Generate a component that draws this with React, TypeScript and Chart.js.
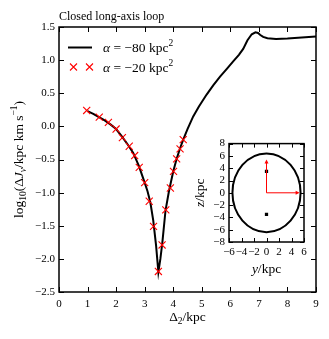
import React, { useEffect, useRef } from "react";
import { Chart, registerables } from "chart.js";
Chart.register(...registerables);

// ---- data ----
const curveX = [1.0, 1.2, 1.4, 1.6, 1.8, 2.0, 2.2, 2.4, 2.6, 2.8, 3.0, 3.1, 3.2, 3.3, 3.4, 3.48, 3.55, 3.62, 3.73, 3.85, 4.0, 4.12, 4.24, 4.35, 4.5, 4.7, 4.9, 5.17, 5.4, 5.64, 5.9, 6.1, 6.3, 6.45, 6.6, 6.75, 6.88, 6.97, 7.05, 7.15, 7.3, 7.6, 8.0, 8.5, 9.0];
const curveY = [0.23, 0.19, 0.14, 0.09, 0.03, -0.04, -0.15, -0.27, -0.40, -0.60, -0.85, -0.98, -1.15, -1.42, -1.8, -2.2, -2.0, -1.75, -1.27, -0.98, -0.68, -0.49, -0.33, -0.20, -0.04, 0.15, 0.30, 0.48, 0.62, 0.75, 0.88, 0.98, 1.08, 1.17, 1.30, 1.39, 1.42, 1.41, 1.38, 1.35, 1.33, 1.32, 1.325, 1.34, 1.355];
const markX = [0.97, 1.41, 1.73, 2.0, 2.22, 2.46, 2.65, 2.81, 3.0, 3.16, 3.31, 3.48, 3.61, 3.74, 3.90, 4.01, 4.12, 4.24, 4.35];
const markY = [0.24, 0.14, 0.06, -0.04, -0.17, -0.30, -0.44, -0.62, -0.85, -1.13, -1.51, -2.19, -1.79, -1.26, -0.93, -0.68, -0.49, -0.34, -0.20];
const xRange = [0, 9];
const yRange = [-2.5, 1.5];

// inset
const insetXRange = [-6, 6];
const insetYRange = [-8, 8];
const ellipseCenter = [0, 0];
const ellipseRadii = [5.45, 6.4];
const squareY = [0, 0];
const squareZ = [3.5, -3.5];
const arrowTipY = [0, 5.3];
const arrowTipZ = [5.4, 0];

const legendLabels = ["\u221280 kpc", "\u221220 kpc"];
const titleText = "Closed long-axis loop";

const SERIF = '"Liberation Serif", "DejaVu Serif", serif';
const M = 13.5; // math text size
const MS = 9.5; // sub/superscript size

type Seg = { t: string; s: number; i?: boolean; dy?: number };
function segFont(g: Seg) {
  return `${g.i ? "italic " : ""}${g.s}px ${SERIF}`;
}
function drawRich(ctx: CanvasRenderingContext2D, x: number, y: number, segs: Seg[], align: "left" | "center") {
  let w = 0;
  for (const g of segs) {
    ctx.font = segFont(g);
    w += ctx.measureText(g.t).width;
  }
  let cx = align === "center" ? x - w / 2 : x;
  ctx.textBaseline = "alphabetic";
  ctx.textAlign = "left";
  ctx.fillStyle = "#000";
  for (const g of segs) {
    ctx.font = segFont(g);
    ctx.fillText(g.t, cx, y + (g.dy || 0));
    cx += ctx.measureText(g.t).width;
  }
}

function makeFrame(tickLen: number, lw: number) {
  return {
    id: "frame",
    afterDatasetsDraw(chart: any) {
      const { ctx, chartArea: a, scales } = chart;
      ctx.save();
      ctx.strokeStyle = "#000";
      ctx.lineWidth = 1;
      ctx.beginPath();
      for (const t of scales.x.ticks) {
        const px = Math.round(scales.x.getPixelForValue(t.value)) + 0.5;
        ctx.moveTo(px, a.bottom);
        ctx.lineTo(px, a.bottom - tickLen);
        ctx.moveTo(px, a.top);
        ctx.lineTo(px, a.top + tickLen);
      }
      for (const t of scales.y.ticks) {
        const py = Math.round(scales.y.getPixelForValue(t.value)) + 0.5;
        ctx.moveTo(a.left, py);
        ctx.lineTo(a.left + tickLen, py);
        ctx.moveTo(a.right, py);
        ctx.lineTo(a.right - tickLen, py);
      }
      ctx.stroke();
      ctx.lineWidth = lw;
      ctx.strokeRect(a.left, a.top, a.right - a.left, a.bottom - a.top);
      ctx.restore();
    },
  };
}

const fmtMinus = (v: number, d: number) => {
  const s = Math.abs(v).toFixed(d);
  return v < -1e-9 ? "\u2212" + s : s;
};

const mainText = {
  id: "mainText",
  afterDraw(chart: any) {
    const { ctx, chartArea: a } = chart;
    ctx.save();
    // title
    drawRich(ctx, a.left, 19.5, [{ t: titleText, s: 12 }], "left");
    // x label
    drawRich(ctx, (a.left + a.right) / 2, 321, [
      { t: "\u0394", s: M },
      { t: "2", s: MS, dy: 3 },
      { t: "/kpc", s: M },
    ], "center");
    // y label
    ctx.save();
    ctx.translate(22.5, (a.top + a.bottom) / 2);
    ctx.rotate(-Math.PI / 2);
    drawRich(ctx, 0, 0, [
      { t: "log", s: M },
      { t: "10", s: MS, dy: 3 },
      { t: "(\u0394", s: M },
      { t: "J", s: M, i: true },
      { t: "\u03bd", s: MS, i: true, dy: 3 },
      { t: "/kpc km s", s: M },
      { t: "\u22121", s: MS, dy: -5.5 },
      { t: ")", s: M },
    ], "center");
    ctx.restore();
    // legend
    ctx.strokeStyle = "#000";
    ctx.lineWidth = 2;
    ctx.beginPath();
    ctx.moveTo(68, 47.5);
    ctx.lineTo(92, 47.5);
    ctx.stroke();
    ctx.strokeStyle = "#ff0000";
    ctx.lineWidth = 1.1;
    for (const cx of [73.5, 89.5]) {
      const r = 3.5;
      ctx.beginPath();
      ctx.moveTo(cx - r, 67 - r);
      ctx.lineTo(cx + r, 67 + r);
      ctx.moveTo(cx - r, 67 + r);
      ctx.lineTo(cx + r, 67 - r);
      ctx.stroke();
    }
    const rows = [51.7, 71.7];
    legendLabels.forEach((lab, i) => {
      drawRich(ctx, 103, rows[i], [
        { t: "\u03b1", s: M, i: true },
        { t: " = ", s: M },
        { t: lab, s: M },
        { t: "2", s: MS, dy: -5.5 },
      ], "left");
    });
    ctx.restore();
  },
};

const insetDraw = {
  id: "insetDraw",
  beforeDatasetsDraw(chart: any) {
    const { ctx, scales } = chart;
    const x = scales.x, y = scales.y;
    ctx.save();
    const cx = x.getPixelForValue(ellipseCenter[0]);
    const cy = y.getPixelForValue(ellipseCenter[1]);
    const rx = Math.abs(x.getPixelForValue(ellipseCenter[0] + ellipseRadii[0]) - cx);
    const ry = Math.abs(y.getPixelForValue(ellipseCenter[1] + ellipseRadii[1]) - cy);
    ctx.strokeStyle = "#000";
    ctx.lineWidth = 2;
    ctx.beginPath();
    ctx.ellipse(cx, cy, rx, ry, 0, 0, Math.PI * 2);
    ctx.stroke();
    ctx.restore();
  },
  afterDatasetsDraw(chart: any) {
    const { ctx, scales } = chart;
    const x = scales.x, y = scales.y;
    ctx.save();
    ctx.fillStyle = "#ff0000";
    const vx = x.getPixelForValue(arrowTipY[0]);
    const vy = y.getPixelForValue(arrowTipZ[0]);
    const hx = x.getPixelForValue(arrowTipY[1]);
    const hy = y.getPixelForValue(arrowTipZ[1]);
    const L = 4, W = 2;
    ctx.beginPath();
    ctx.moveTo(vx, vy);
    ctx.lineTo(vx - W, vy + L);
    ctx.lineTo(vx + W, vy + L);
    ctx.closePath();
    ctx.fill();
    ctx.beginPath();
    ctx.moveTo(hx, hy);
    ctx.lineTo(hx - L, hy - W);
    ctx.lineTo(hx - L, hy + W);
    ctx.closePath();
    ctx.fill();
    ctx.restore();
  },
};

const insetText = {
  id: "insetText",
  afterDraw(chart: any) {
    const { ctx, chartArea: a } = chart;
    ctx.save();
    drawRich(ctx, (a.left + a.right) / 2, 139.5, [
      { t: "y", s: M, i: true },
      { t: "/kpc", s: M },
    ], "center");
    ctx.translate(13.5, (a.top + a.bottom) / 2);
    ctx.rotate(-Math.PI / 2);
    drawRich(ctx, 0, 0, [
      { t: "z", s: M, i: true },
      { t: "/kpc", s: M },
    ], "center");
    ctx.restore();
  },
};

export default function App() {
  const mainRef = useRef<HTMLCanvasElement>(null);
  const insetRef = useRef<HTMLCanvasElement>(null);

  useEffect(() => {
    document.body.style.margin = "0";
    const tickFont = { family: SERIF, size: 11 };
    const main = new Chart(mainRef.current!, {
      type: "scatter",
      data: {
        datasets: [
          {
            data: curveX.map((x, i) => ({ x, y: curveY[i] })),
            showLine: true,
            borderColor: "#000",
            borderWidth: 2,
            pointRadius: 0,
            tension: 0,
            order: 2,
          } as any,
          {
            data: markX.map((x, i) => ({ x, y: markY[i] })),
            showLine: false,
            pointStyle: "crossRot",
            pointRadius: 5,
            borderColor: "#ff0000",
            backgroundColor: "#ff0000",
            borderWidth: 1.1,
            order: 1,
          } as any,
        ],
      },
      options: {
        responsive: false,
        animation: false,
        layout: { padding: { left: 0, right: 13, top: 27, bottom: 0 } },
        plugins: { legend: { display: false }, tooltip: { enabled: false }, title: { display: false } },
        scales: {
          x: {
            type: "linear",
            min: xRange[0],
            max: xRange[1],
            ticks: { stepSize: 1, font: tickFont, color: "#000", padding: 6, maxRotation: 0, autoSkip: false, callback: (v: any) => fmtMinus(Number(v), 0) },
            grid: { display: false, drawTicks: false },
            border: { display: false },
            afterFit: (s: any) => { s.height = 47; },
          },
          y: {
            type: "linear",
            min: yRange[0],
            max: yRange[1],
            ticks: { stepSize: 0.5, font: tickFont, color: "#000", padding: 4, autoSkip: false, callback: (v: any) => fmtMinus(Number(v), 1) },
            grid: { display: false, drawTicks: false },
            border: { display: false },
            afterFit: (s: any) => { s.width = 59; },
          },
        },
      } as any,
      plugins: [makeFrame(5, 1.5), mainText],
    });

    const insetFont = { family: SERIF, size: 11 };
    const inset = new Chart(insetRef.current!, {
      type: "scatter",
      data: {
        datasets: [
          {
            data: [{ x: 0, y: 0 }, { x: arrowTipY[0], y: arrowTipZ[0] - 0.5 }],
            showLine: true,
            borderColor: "#ff0000",
            borderWidth: 1,
            pointRadius: 0,
          } as any,
          {
            data: [{ x: 0, y: 0 }, { x: arrowTipY[1] - 0.5, y: arrowTipZ[1] }],
            showLine: true,
            borderColor: "#ff0000",
            borderWidth: 1,
            pointRadius: 0,
          } as any,
          {
            data: squareY.map((x, i) => ({ x, y: squareZ[i] })),
            showLine: false,
            pointStyle: "rect",
            pointRadius: 2.3,
            backgroundColor: "#000",
            borderColor: "#000",
            borderWidth: 0,
          } as any,
        ],
      },
      options: {
        responsive: false,
        animation: false,
        layout: { padding: { left: 0, right: 12, top: 10, bottom: 0 } },
        plugins: { legend: { display: false }, tooltip: { enabled: false } },
        scales: {
          x: {
            type: "linear",
            min: insetXRange[0],
            max: insetXRange[1],
            ticks: { stepSize: 2, font: insetFont, color: "#000", padding: 4, maxRotation: 0, autoSkip: false, callback: (v: any) => fmtMinus(Number(v), 0) },
            grid: { display: false, drawTicks: false },
            border: { display: false },
            afterFit: (s: any) => { s.height = 36; },
          },
          y: {
            type: "linear",
            min: insetYRange[0],
            max: insetYRange[1],
            ticks: { stepSize: 2, font: insetFont, color: "#000", padding: 4, autoSkip: false, callback: (v: any) => fmtMinus(Number(v), 0) },
            grid: { display: false, drawTicks: false },
            border: { display: false },
            afterFit: (s: any) => { s.width = 39; },
          },
        },
      } as any,
      plugins: [insetDraw, makeFrame(4, 1.5), insetText],
    });

    return () => {
      main.destroy();
      inset.destroy();
    };
  }, []);

  return (
    <div style={{ position: "relative", width: 329, height: 339, background: "#fff" }}>
      <canvas ref={mainRef} width={329} height={339} style={{ position: "absolute", left: 0, top: 0 }} />
      <canvas ref={insetRef} width={126} height={145} style={{ position: "absolute", left: 190, top: 133 }} />
    </div>
  );
}
